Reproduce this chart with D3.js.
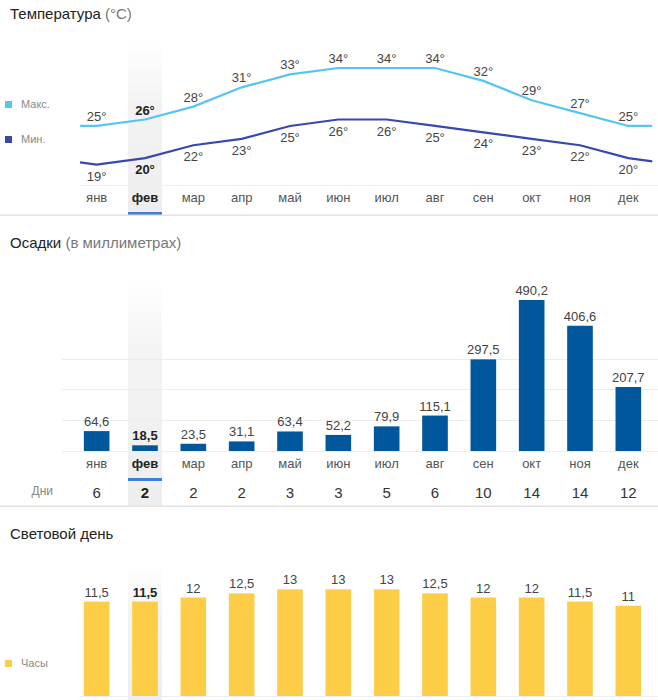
<!DOCTYPE html>
<html><head><meta charset="utf-8">
<script src="https://cdn.jsdelivr.net/npm/d3@7"></script>
<style>
body{margin:0;background:#fff;}
svg{display:block;font-family:Arial,"Liberation Sans",sans-serif;}
</style></head>
<body>
<svg id="c" width="658" height="700"></svg>
<script>
const months = ["янв","фев","мар","апр","май","июн","июл","авг","сен","окт","ноя","дек"];
const tempMax = [25,26,28,31,33,34,34,34,32,29,27,25];
const tempMin = [19,20,22,23,25,26,26,25,24,23,22,20];
const precip = [64.6,18.5,23.5,31.1,63.4,52.2,79.9,115.1,297.5,490.2,406.6,207.7];
const rainDays = [6,2,2,2,3,3,5,6,10,14,14,12];
const daylight = [11.5,11.5,12,12.5,13,13,13,12.5,12,12,11.5,11];
const precipGrid = [100,200,300];
const highlight = "фев";

const fmt = v => String(v).replace(".", ",");
const svg = d3.select("#c");
const W = 658;

const colMax = "#56c5f3", colMin = "#3949ab", colRain = "#01579b", colSun = "#fdcd47";

const xBand = d3.scaleBand().domain(months).range([72.5, 652.5]).paddingInner(0.47).paddingOuter(0.235);
const step = xBand.step();
const cx = m => xBand(m) + xBand.bandwidth()/2;

const defs = svg.append("defs");
const grad = defs.append("linearGradient").attr("id","hl").attr("x1",0).attr("y1",0).attr("x2",0).attr("y2",1);
grad.append("stop").attr("offset","0%").attr("stop-color","#ffffff");
grad.append("stop").attr("offset","35%").attr("stop-color","#f3f3f3");
grad.append("stop").attr("offset","100%").attr("stop-color","#eeeeee");
defs.append("clipPath").attr("id","tclip").append("rect").attr("x",80).attr("y",0).attr("width",572.5).attr("height",220);

function band(y0, y1){
  svg.append("rect").attr("x", cx(highlight)-17).attr("y", y0).attr("width", 34).attr("height", y1-y0).attr("fill","url(#hl)");
}
function title(y, main, sub){
  const t = svg.append("text").attr("x",10).attr("y",y).attr("font-size",15).attr("fill","#222");
  t.append("tspan").text(main);
  if (sub) t.append("tspan").attr("fill","#777").text(" " + sub);
}
function legend(y, color, label){
  svg.append("rect").attr("x",5).attr("y",y-7).attr("width",7).attr("height",7).attr("fill",color);
  svg.append("text").attr("x",21).attr("y",y).attr("font-size",11).attr("fill","#888").text(label);
}
function monthLabels(y){
  svg.append("g").selectAll("text").data(months).join("text")
    .attr("x", d=>cx(d)).attr("y", y).attr("text-anchor","middle").attr("font-size",13)
    .attr("font-weight", d=>d===highlight?"bold":null)
    .attr("fill", d=>d===highlight?"#222":"#555").text(d=>d);
}
function underline(y){
  svg.append("rect").attr("x", cx(highlight)-17).attr("y", y).attr("width",34).attr("height",3).attr("fill","#3d7fd8");
}

// ---------- Temperature ----------
band(43, 215);
title(19, "Температура", "(°C)");
legend(108, colMax, "Макс.");
legend(143, colMin, "Мин.");

const yT = d3.scaleLinear().domain([19,34]).range([164.6, 68]);
svg.append("line").attr("x1",80).attr("x2",W).attr("y1",185.5).attr("y2",185.5).attr("stroke","#f0f0f0");

function series(vals){
  const pts = months.map((m,i)=>[cx(m), vals[i]]);
  const edge = (vals[0] + vals[vals.length-1]) / 2;
  return [[cx(months[0]) - step/2, edge], ...pts, [cx(months[11]) + step/2, edge]];
}
const line = d3.line().x(d=>d[0]).y(d=>yT(d[1]));
const tg = svg.append("g").attr("clip-path","url(#tclip)");
tg.append("path").attr("d", line(series(tempMax))).attr("fill","none").attr("stroke",colMax).attr("stroke-width",2.2);
tg.append("path").attr("d", line(series(tempMin))).attr("fill","none").attr("stroke",colMin).attr("stroke-width",2.2);

svg.append("g").selectAll("text").data(months).join("text")
  .attr("x", d=>cx(d)).attr("y", (d,i)=>yT(tempMax[i]) - 5).attr("text-anchor","middle").attr("font-size",13)
  .attr("font-weight", d=>d===highlight?"bold":null).attr("fill", d=>d===highlight?"#222":"#444")
  .text((d,i)=>tempMax[i] + "°");
svg.append("g").selectAll("text").data(months).join("text")
  .attr("x", d=>cx(d)).attr("y", (d,i)=>yT(tempMin[i]) + 16).attr("text-anchor","middle").attr("font-size",13)
  .attr("font-weight", d=>d===highlight?"bold":null).attr("fill", d=>d===highlight?"#222":"#444")
  .text((d,i)=>tempMin[i] + "°");

monthLabels(202);
underline(212);
svg.append("rect").attr("x",0).attr("y",214.5).attr("width",W).attr("height",1.5).attr("fill","#e2e2e2");

// ---------- Precipitation ----------
band(280, 506);
title(248, "Осадки", "(в миллиметрах)");
const yP = d3.scaleLinear().domain([0, 490.2]).range([451, 300]);
svg.append("g").selectAll("line").data(precipGrid).join("line")
  .attr("x1",62).attr("x2",W).attr("y1",d=>Math.round(yP(d))+0.5).attr("y2",d=>Math.round(yP(d))+0.5)
  .attr("stroke","#ececec");
svg.append("line").attr("x1",62).attr("x2",W).attr("y1",451.5).attr("y2",451.5).attr("stroke","#eeeeee");
svg.append("g").selectAll("rect").data(months).join("rect")
  .attr("x", d=>xBand(d)).attr("width", xBand.bandwidth())
  .attr("y", (d,i)=>yP(precip[i])).attr("height", (d,i)=>yP(0)-yP(precip[i])).attr("fill", colRain);
svg.append("g").selectAll("text").data(months).join("text")
  .attr("x", d=>cx(d)).attr("y", (d,i)=>yP(precip[i]) - 5).attr("text-anchor","middle").attr("font-size",13)
  .attr("font-weight", d=>d===highlight?"bold":null).attr("fill", d=>d===highlight?"#222":"#444")
  .text((d,i)=>fmt(precip[i]));
monthLabels(468);
underline(478);
svg.append("text").attr("x",53).attr("y",495).attr("text-anchor","end").attr("font-size",12).attr("fill","#888").text("Дни");
svg.append("g").selectAll("text").data(months).join("text")
  .attr("x", d=>cx(d)).attr("y", 498).attr("text-anchor","middle").attr("font-size",15)
  .attr("font-weight", d=>d===highlight?"bold":null).attr("fill", d=>d===highlight?"#222":"#333")
  .text((d,i)=>rainDays[i]);
svg.append("rect").attr("x",0).attr("y",505.5).attr("width",W).attr("height",1.5).attr("fill","#e2e2e2");

// ---------- Daylight ----------
band(565, 700);
title(539, "Световой день", null);
legend(667, colSun, "Часы");
const yD = d3.scaleLinear().domain([0, 13]).range([696, 589.3]);
svg.append("line").attr("x1",80).attr("x2",W).attr("y1",696.5).attr("y2",696.5).attr("stroke","#eeeeee");
svg.append("g").selectAll("rect").data(months).join("rect")
  .attr("x", d=>xBand(d)).attr("width", xBand.bandwidth())
  .attr("y", (d,i)=>yD(daylight[i])).attr("height", (d,i)=>yD(0)-yD(daylight[i])).attr("fill", colSun);
svg.append("g").selectAll("text").data(months).join("text")
  .attr("x", d=>cx(d)).attr("y", (d,i)=>yD(daylight[i]) - 5).attr("text-anchor","middle").attr("font-size",13)
  .attr("font-weight", d=>d===highlight?"bold":null).attr("fill", d=>d===highlight?"#222":"#444")
  .text((d,i)=>fmt(daylight[i]));
</script>
</body></html>
